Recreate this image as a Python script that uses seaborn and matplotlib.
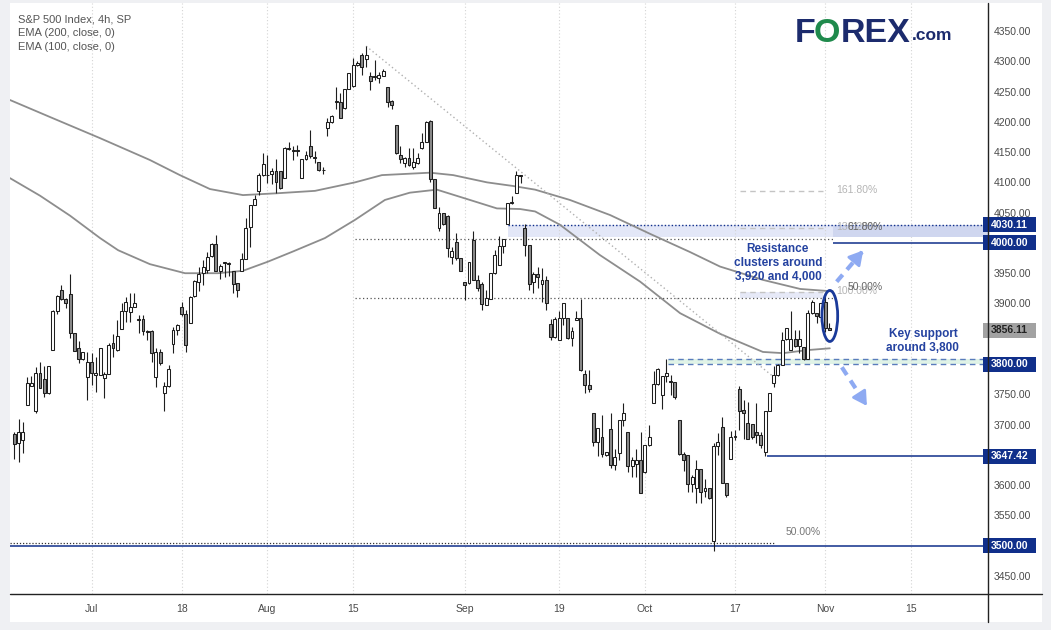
import numpy as np
import pandas as pd
import matplotlib
matplotlib.use("Agg")
import matplotlib.pyplot as plt
import matplotlib.transforms as mtransforms
from matplotlib.patches import Rectangle, Ellipse
import seaborn as sns

# ---------------- data ----------------
opens = [3684, 3670, 3675, 3732, 3764, 3723, 3785, 3775, 3753, 3823,
         3887, 3923, 3907, 3916, 3851, 3826, 3809, 3778, 3803, 3782,
         3782, 3777, 3783, 3834, 3824, 3858, 3887, 3886, 3895, 3874,
         3874, 3854, 3854, 3779, 3820, 3753, 3763, 3833, 3857, 3894,
         3883, 3868, 3913, 3935, 3950, 3956, 3978, 3998, 3953, 3967,
         3966, 3953, 3934, 3954, 3973, 4027, 4063, 4086, 4112, 4113,
         4114, 4118, 4118, 4108, 4155, 4154, 4153, 4107, 4138, 4160,
         4142, 4134, 4120, 4190, 4199, 4233, 4233, 4222, 4254, 4259,
         4293, 4310, 4304, 4276, 4275, 4272, 4276, 4258, 4235, 4195,
         4146, 4132, 4140, 4125, 4132, 4156, 4166, 4202, 4106, 4024,
         4049, 4045, 3976, 4001, 3975, 3936, 3934, 4005, 3939, 3933,
         3898, 3907, 3950, 3964, 3995, 4031, 4066, 4083, 4111, 4024,
         3997, 3935, 3948, 3932, 3939, 3866, 3845, 3839, 3876, 3876,
         3843, 3872, 3876, 3784, 3765, 3719, 3672, 3679, 3650, 3692,
         3634, 3653, 3708, 3687, 3632, 3635, 3642, 3621, 3666, 3735,
         3767, 3749, 3780, 3771, 3770, 3708, 3651, 3650, 3602, 3595,
         3626, 3591, 3595, 3507, 3665, 3696, 3604, 3643, 3680, 3759,
         3724, 3703, 3701, 3687, 3683, 3655, 3723, 3768, 3782, 3798,
         3841, 3824, 3842, 3829, 3828, 3808, 3885, 3885, 3878, 3903,
         3859]
highs = [3687, 3709, 3705, 3779, 3780, 3795, 3804, 3796, 3797, 3889,
         3914, 3930, 3909, 3948, 3851, 3838, 3820, 3820, 3819, 3811,
         3826, 3787, 3835, 3850, 3872, 3900, 3911, 3918, 3918, 3881,
         3881, 3856, 3856, 3826, 3825, 3771, 3798, 3862, 3866, 3902,
         3889, 3913, 3939, 3961, 3972, 3985, 4000, 4013, 3965, 3969,
         3969, 3953, 3934, 3983, 4041, 4063, 4079, 4115, 4148, 4145,
         4123, 4138, 4118, 4158, 4167, 4160, 4162, 4138, 4151, 4187,
         4151, 4134, 4126, 4207, 4211, 4257, 4248, 4254, 4281, 4305,
         4301, 4313, 4325, 4283, 4302, 4283, 4287, 4258, 4236, 4195,
         4160, 4142, 4156, 4156, 4149, 4182, 4202, 4203, 4106, 4059,
         4049, 4046, 3993, 4016, 3975, 3936, 3969, 4019, 3947, 3935,
         3922, 3950, 3988, 4012, 4006, 4066, 4078, 4119, 4112, 4031,
         3997, 3952, 3961, 3959, 3945, 3874, 3877, 3888, 3900, 3876,
         3862, 3887, 3907, 3791, 3790, 3720, 3695, 3716, 3655, 3719,
         3659, 3708, 3736, 3687, 3647, 3660, 3688, 3666, 3699, 3789,
         3793, 3780, 3808, 3782, 3770, 3708, 3654, 3650, 3617, 3642,
         3626, 3610, 3595, 3669, 3686, 3712, 3604, 3690, 3691, 3764,
         3740, 3738, 3701, 3736, 3687, 3723, 3753, 3796, 3800, 3853,
         3859, 3888, 3857, 3856, 3828, 3890, 3906, 3885, 3900, 3918,
         3867]
lows = [3643, 3639, 3653, 3732, 3764, 3720, 3760, 3745, 3750, 3823,
        3883, 3906, 3892, 3843, 3822, 3801, 3807, 3740, 3765, 3754,
        3782, 3744, 3783, 3811, 3822, 3858, 3870, 3870, 3894, 3852,
        3848, 3840, 3804, 3762, 3798, 3723, 3762, 3819, 3848, 3880,
        3820, 3868, 3911, 3921, 3931, 3950, 3977, 3953, 3940, 3944,
        3945, 3917, 3911, 3953, 3973, 3994, 4062, 4079, 4111, 4099,
        4097, 4082, 4089, 4108, 4154, 4137, 4144, 4107, 4137, 4141,
        4132, 4119, 4114, 4177, 4198, 4221, 4206, 4221, 4254, 4258,
        4292, 4277, 4290, 4253, 4269, 4264, 4275, 4225, 4221, 4147,
        4132, 4126, 4127, 4122, 4130, 4155, 4166, 4100, 4057, 4019,
        4030, 3977, 3966, 3972, 3954, 3906, 3933, 3939, 3920, 3889,
        3897, 3907, 3949, 3963, 3983, 4031, 4064, 4083, 4099, 3979,
        3922, 3918, 3925, 3903, 3890, 3839, 3843, 3839, 3865, 3841,
        3829, 3872, 3789, 3752, 3754, 3665, 3649, 3647, 3648, 3628,
        3625, 3642, 3697, 3621, 3614, 3614, 3587, 3620, 3665, 3735,
        3766, 3725, 3771, 3749, 3742, 3650, 3624, 3589, 3589, 3571,
        3571, 3581, 3577, 3491, 3650, 3604, 3581, 3643, 3675, 3691,
        3677, 3677, 3677, 3669, 3662, 3647.42, 3723, 3762, 3780, 3798,
        3839, 3823, 3828, 3818, 3807, 3808, 3883, 3867, 3870, 3853,
        3856]
closes = [3668, 3687, 3688, 3768, 3768, 3785, 3760, 3753, 3797, 3888,
          3912, 3907, 3900, 3851, 3822, 3809, 3820, 3803, 3786, 3785,
          3826, 3783, 3831, 3826, 3846, 3887, 3902, 3895, 3900, 3872,
          3854, 3853, 3819, 3820, 3801, 3764, 3792, 3857, 3864, 3882,
          3832, 3911, 3937, 3949, 3960, 3977, 3999, 3953, 3962, 3968,
          3967, 3933, 3922, 3973, 4024, 4063, 4072, 4112, 4130, 4112,
          4118, 4100, 4090, 4156, 4156, 4151, 4151, 4138, 4145, 4143,
          4141, 4121, 4121, 4199, 4210, 4235, 4207, 4254, 4280, 4294,
          4297, 4290, 4310, 4268, 4274, 4277, 4284, 4233, 4228, 4148,
          4138, 4140, 4129, 4133, 4140, 4166, 4199, 4106, 4057, 4049,
          4031, 3991, 3986, 3975, 3954, 3931, 3968, 3939, 3925, 3899,
          3909, 3950, 3980, 3995, 4006, 4066, 4067, 4112, 4111, 3997,
          3933, 3948, 3944, 3938, 3901, 3845, 3874, 3876, 3900, 3843,
          3855, 3876, 3790, 3765, 3758, 3672, 3695, 3652, 3655, 3634,
          3647, 3708, 3720, 3632, 3642, 3642, 3587, 3666, 3679, 3767,
          3792, 3780, 3785, 3771, 3745, 3651, 3642, 3602, 3614, 3626,
          3589, 3595, 3578, 3665, 3672, 3604, 3584, 3680, 3681, 3722,
          3720, 3677, 3679, 3683, 3666, 3723, 3753, 3782, 3798, 3840,
          3859, 3842, 3830, 3842, 3808, 3885, 3903, 3879, 3900, 3859,
          3856.11]

ema200_bar = [-1.0, 8.3, 20.0, 31.6, 38.6, 45.6, 53.3, 61.2, 70.1, 79.4,
              85.7, 96.9, 102.3, 110.2, 116.3, 121.4, 129.5, 138.9, 148.2,
              157.5, 164.5, 174.5, 183.2, 190.8]
ema200_val = [4236, 4208, 4173, 4137, 4112, 4089, 4079, 4082, 4086, 4100,
              4112, 4116, 4112, 4100, 4094, 4088, 4071, 4046, 4015,
              3985, 3961, 3939, 3924, 3920]
ema100_bar = [-1.0, 6.0, 13.0, 20.0, 24.2, 31.6, 39.8, 47.5, 53.3, 59.1,
              65.0, 72.4, 79.4, 86.4, 92.2, 98.5, 106.2, 112.5, 117.9,
              121.4, 127.2, 136.5, 145.9, 155.2, 164.5, 166.8, 174.5,
              179.2, 184.8, 190.1]
ema100_val = [4107, 4078, 4045, 4008, 3988, 3965, 3950, 3950, 3954, 3969,
              3986, 4008, 4038, 4071, 4083, 4088, 4071, 4057, 4056,
              4052, 4030, 3980, 3936, 3884, 3850, 3843, 3820,
              3818, 3823, 3826]

trend_bar = [82, 177.3]
trend_val = [4325, 3777]

tick_bars = [18, 39, 59, 79, 105, 127, 147, 168, 189, 209]
tick_labels = ["Jul", "18", "Aug", "15", "Sep", "19", "Oct", "17", "Nov", "15"]
price_ticks = [3450, 3550, 3600, 3700, 3750, 3900,
               3950, 4050, 4100, 4150, 4200, 4250, 4300, 4350]

fib_dark_levels = [3908.5, 4006.8]
fib_dark_labels = ["50.00%", "61.80%"]
fib_ext_levels = [3919.5, 4024.7, 4086.3]
fib_ext_labels = ["100.00%", "138.20%", "161.80%"]
fib_low_level = 3504
resist_zone = [4010.3, 4030.11]
support_zone = [3800, 3808.5]
level_4000 = 4000
level_low = 3647.42
level_3500 = 3500
last_price = 3856.11

# ---------------- styling ----------------
sns.set_theme(style="white")
plt.rcParams["font.family"] = ["Liberation Sans", "DejaVu Sans"]

W, H = 1051, 630
fig = plt.figure(figsize=(W / 100, H / 100), dpi=100)
fig.patch.set_facecolor("#eff0f3")

bg = fig.add_axes([0, 0, 1, 1], zorder=0)
bg.set_xlim(0, W); bg.set_ylim(H, 0); bg.axis("off")
bg.add_patch(Rectangle((10, 3), 1032, 619, facecolor="white", edgecolor="none"))

ax = fig.add_axes([10 / W, 1 - 594 / H, 978 / W, 591 / H], zorder=1)
ax.set_facecolor("white")
XL = (-1.0, 226.97)
ax.set_xlim(*XL)
ax.set_ylim(3420.3, 4396.2)
for s in ax.spines.values():
    s.set_visible(False)

NAVY = "#102f8a"
TXTBLUE = "#2442a0"

def xf(b):
    return (b - XL[0]) / (XL[1] - XL[0])

# vertical dotted grid
ax.set_xticks(tick_bars)
ax.set_xticklabels(tick_labels)
ax.grid(axis="x", color="#d4d4d4", linestyle=(0, (1, 2)), linewidth=0.8)
ax.grid(axis="y", visible=False)
ax.tick_params(axis="x", length=0, pad=7, labelsize=7.5, labelcolor="#4a4a4a")
ax.yaxis.tick_right()
ax.set_yticks(price_ticks)
ax.set_yticklabels([f"{v:.2f}" for v in price_ticks])
ax.tick_params(axis="y", length=0, pad=4, labelsize=7.5, labelcolor="#4a4a4a")
ax.set_xlabel(""); ax.set_ylabel("")

blend = mtransforms.blended_transform_factory(ax.transAxes, ax.transData)

# zones
ax.axhspan(resist_zone[0], resist_zone[1], xmin=xf(115), xmax=1,
           facecolor="#e3e7f7", edgecolor="none", zorder=0.5)
ax.axhspan(resist_zone[0], resist_zone[1], xmin=xf(190.8), xmax=1,
           facecolor="#cfd6ef", edgecolor="none", zorder=0.6)
ax.axhspan(fib_dark_levels[0], fib_ext_levels[0], xmin=xf(169.2), xmax=xf(188.5),
           facecolor="#e6e9f7", edgecolor="none", zorder=0.5)
ax.axhspan(support_zone[0], support_zone[1], xmin=xf(152.4), xmax=1,
           facecolor="#e0f3e7", edgecolor="none", zorder=0.5)
ax.hlines(support_zone, 152.4, XL[1], colors="#5a7cbc", linestyles=(0, (4, 3)), linewidth=1.0, zorder=1)
ax.hlines(resist_zone[1], 115, XL[1], colors=NAVY, linestyles=(0, (1, 1.5)), linewidth=1.0, zorder=1)

# fib lines
ax.hlines(fib_dark_levels, 79.4, 190.8, colors="#555555", linestyles=(0, (1, 2)), linewidth=0.9, zorder=1)
ax.hlines(fib_ext_levels, 169.2, 188.5, colors="#c4c4c4", linestyles=(0, (4, 3)), linewidth=1.0, zorder=1)
ax.hlines(fib_low_level, XL[0], 177.3, colors="#333333", linestyles=(0, (1, 1.5)), linewidth=0.9, zorder=1)
for lv, lb in zip(fib_ext_levels, fib_ext_labels):
    ax.text(191.6, lv + 1.5, lb, color="#b5b5b5", fontsize=7.5, va="center", ha="left", zorder=2)
for lv, lb in zip(fib_dark_levels, fib_dark_labels):
    ax.text(194.3, lv + 19, lb, color="#666666", fontsize=7.5, va="center", ha="left", zorder=2)
ax.text(179.9, fib_low_level + 19, "50.00%", color="#777777", fontsize=7.5, va="center", ha="left")

# level lines
ax.hlines(level_4000, 190.8, XL[1], colors=NAVY, linewidth=1.1, zorder=1)
ax.hlines(level_low, 175.5, XL[1], colors=NAVY, linewidth=1.1, zorder=1)
ax.hlines(level_3500, XL[0], XL[1], colors=NAVY, linewidth=1.1, zorder=1)

# EMAs and trendline
df200 = pd.DataFrame({"bar": ema200_bar, "price": ema200_val})
df100 = pd.DataFrame({"bar": ema100_bar, "price": ema100_val})
sns.lineplot(data=df200, x="bar", y="price", ax=ax, color="#8d8d8d", linewidth=1.3, zorder=2)
sns.lineplot(data=df100, x="bar", y="price", ax=ax, color="#8d8d8d", linewidth=1.3, zorder=2)
dft = pd.DataFrame({"bar": trend_bar, "price": trend_val})
sns.lineplot(data=dft, x="bar", y="price", ax=ax, color="#b0b0b0", linewidth=1.0,
             linestyle=(0, (1, 2)), zorder=2)
ax.set_xlabel(""); ax.set_ylabel("")

# candles
o = np.array(opens, float); c = np.array(closes, float)
hi = np.array(highs, float); lo = np.array(lows, float)
x = np.arange(len(o))
up = c >= o
ax.vlines(x, lo, hi, color="#1e1e1e", linewidth=0.8, zorder=3)
bot = np.minimum(o, c)
hgt = np.maximum(np.abs(c - o), 0.9)
ax.bar(x[up], hgt[up], bottom=bot[up], width=0.68, facecolor="white",
       edgecolor="#1e1e1e", linewidth=0.75, zorder=4)
ax.bar(x[~up], hgt[~up], bottom=bot[~up], width=0.68, facecolor="#8a8a8a",
       edgecolor="#1e1e1e", linewidth=0.75, zorder=4)

# ellipse + arrows
ax.add_patch(Ellipse((190.1, 3879.4), 3.66, 84.2, fill=False, edgecolor="#1a3a9a",
                     linewidth=2.0, zorder=6))
ARW = "#8eaaf2"
for (x0, y0, x1, y1) in [(191.7, 3936, 197.6, 3985), (192.9, 3794.7, 198.4, 3735)]:
    ax.plot([x0, x1], [y0, y1], color=ARW, linewidth=3, dashes=(2.2, 1.6),
            solid_capstyle="butt", zorder=6)
ax.annotate("", xy=(198.3, 3991.2), xytext=(196.2, 3973.5),
            arrowprops=dict(arrowstyle="-|>,head_length=0.7,head_width=0.4", color=ARW, lw=2), zorder=6)
ax.annotate("", xy=(199.1, 3727), xytext=(197.0, 3750),
            arrowprops=dict(arrowstyle="-|>,head_length=0.7,head_width=0.4", color=ARW, lw=2), zorder=6)

# annotation text
ax.text(178, 3967, "Resistance\nclusters around\n3,920 and 4,000", color=TXTBLUE,
        fontsize=8.5, fontweight="bold", ha="center", va="center", linespacing=1.25, zorder=7)
ax.text(211.8, 3838, "Key support\naround 3,800", color=TXTBLUE,
        fontsize=8.5, fontweight="bold", ha="center", va="center", linespacing=1.25, zorder=7)

# price label boxes
bx0 = (983 - 10) / 978
bw = 53 / 978
bh = 15 / 0.6056
for val, txt, fc, tc in [(resist_zone[1], "4030.11", NAVY, "white"),
                         (level_4000, "4000.00", NAVY, "white"),
                         (last_price, "3856.11", "#a2a2a2", "#222222"),
                         (support_zone[0], "3800.00", NAVY, "white"),
                         (level_low, "3647.42", NAVY, "white"),
                         (level_3500, "3500.00", NAVY, "white")]:
    ax.add_patch(Rectangle((bx0, val - bh / 2), bw, bh, transform=blend, facecolor=fc,
                           edgecolor="none", clip_on=False, zorder=8))
    ax.text(bx0 + bw / 2, val, txt, transform=blend, color=tc, fontsize=7.5,
            fontweight="bold", ha="center", va="center", clip_on=False, zorder=9)

# ---------------- overlay (frame, legend, logo) ----------------
fg = fig.add_axes([0, 0, 1, 1], zorder=5)
fg.set_xlim(0, W); fg.set_ylim(H, 0); fg.axis("off"); fg.patch.set_alpha(0)
fg.plot([10, 1042], [594, 594], color="#222222", linewidth=1.0)
fg.plot([988, 988], [3, 622], color="#222222", linewidth=1.0)
for yy, t in [(20, "S&P 500 Index, 4h, SP"), (33.5, "EMA (200, close, 0)"), (47, "EMA (100, close, 0)")]:
    fg.text(18, yy, t, color="#555555", fontsize=8, va="center", ha="left")
LOGO = "#1c2b6d"
fg.text(795, 33, "F", color=LOGO, fontsize=24.5, fontweight="bold", va="center", ha="left")
fg.text(814, 33, "O", color="#1f8a4c", fontsize=24.5, fontweight="bold", va="center", ha="left")
fg.text(841, 33, "REX", color=LOGO, fontsize=24.5, fontweight="bold", va="center", ha="left")
fg.text(912, 36, ".com", color=LOGO, fontsize=12.5, fontweight="bold", va="center", ha="left")

fig.savefig("out.png", dpi=100, facecolor=fig.get_facecolor())
